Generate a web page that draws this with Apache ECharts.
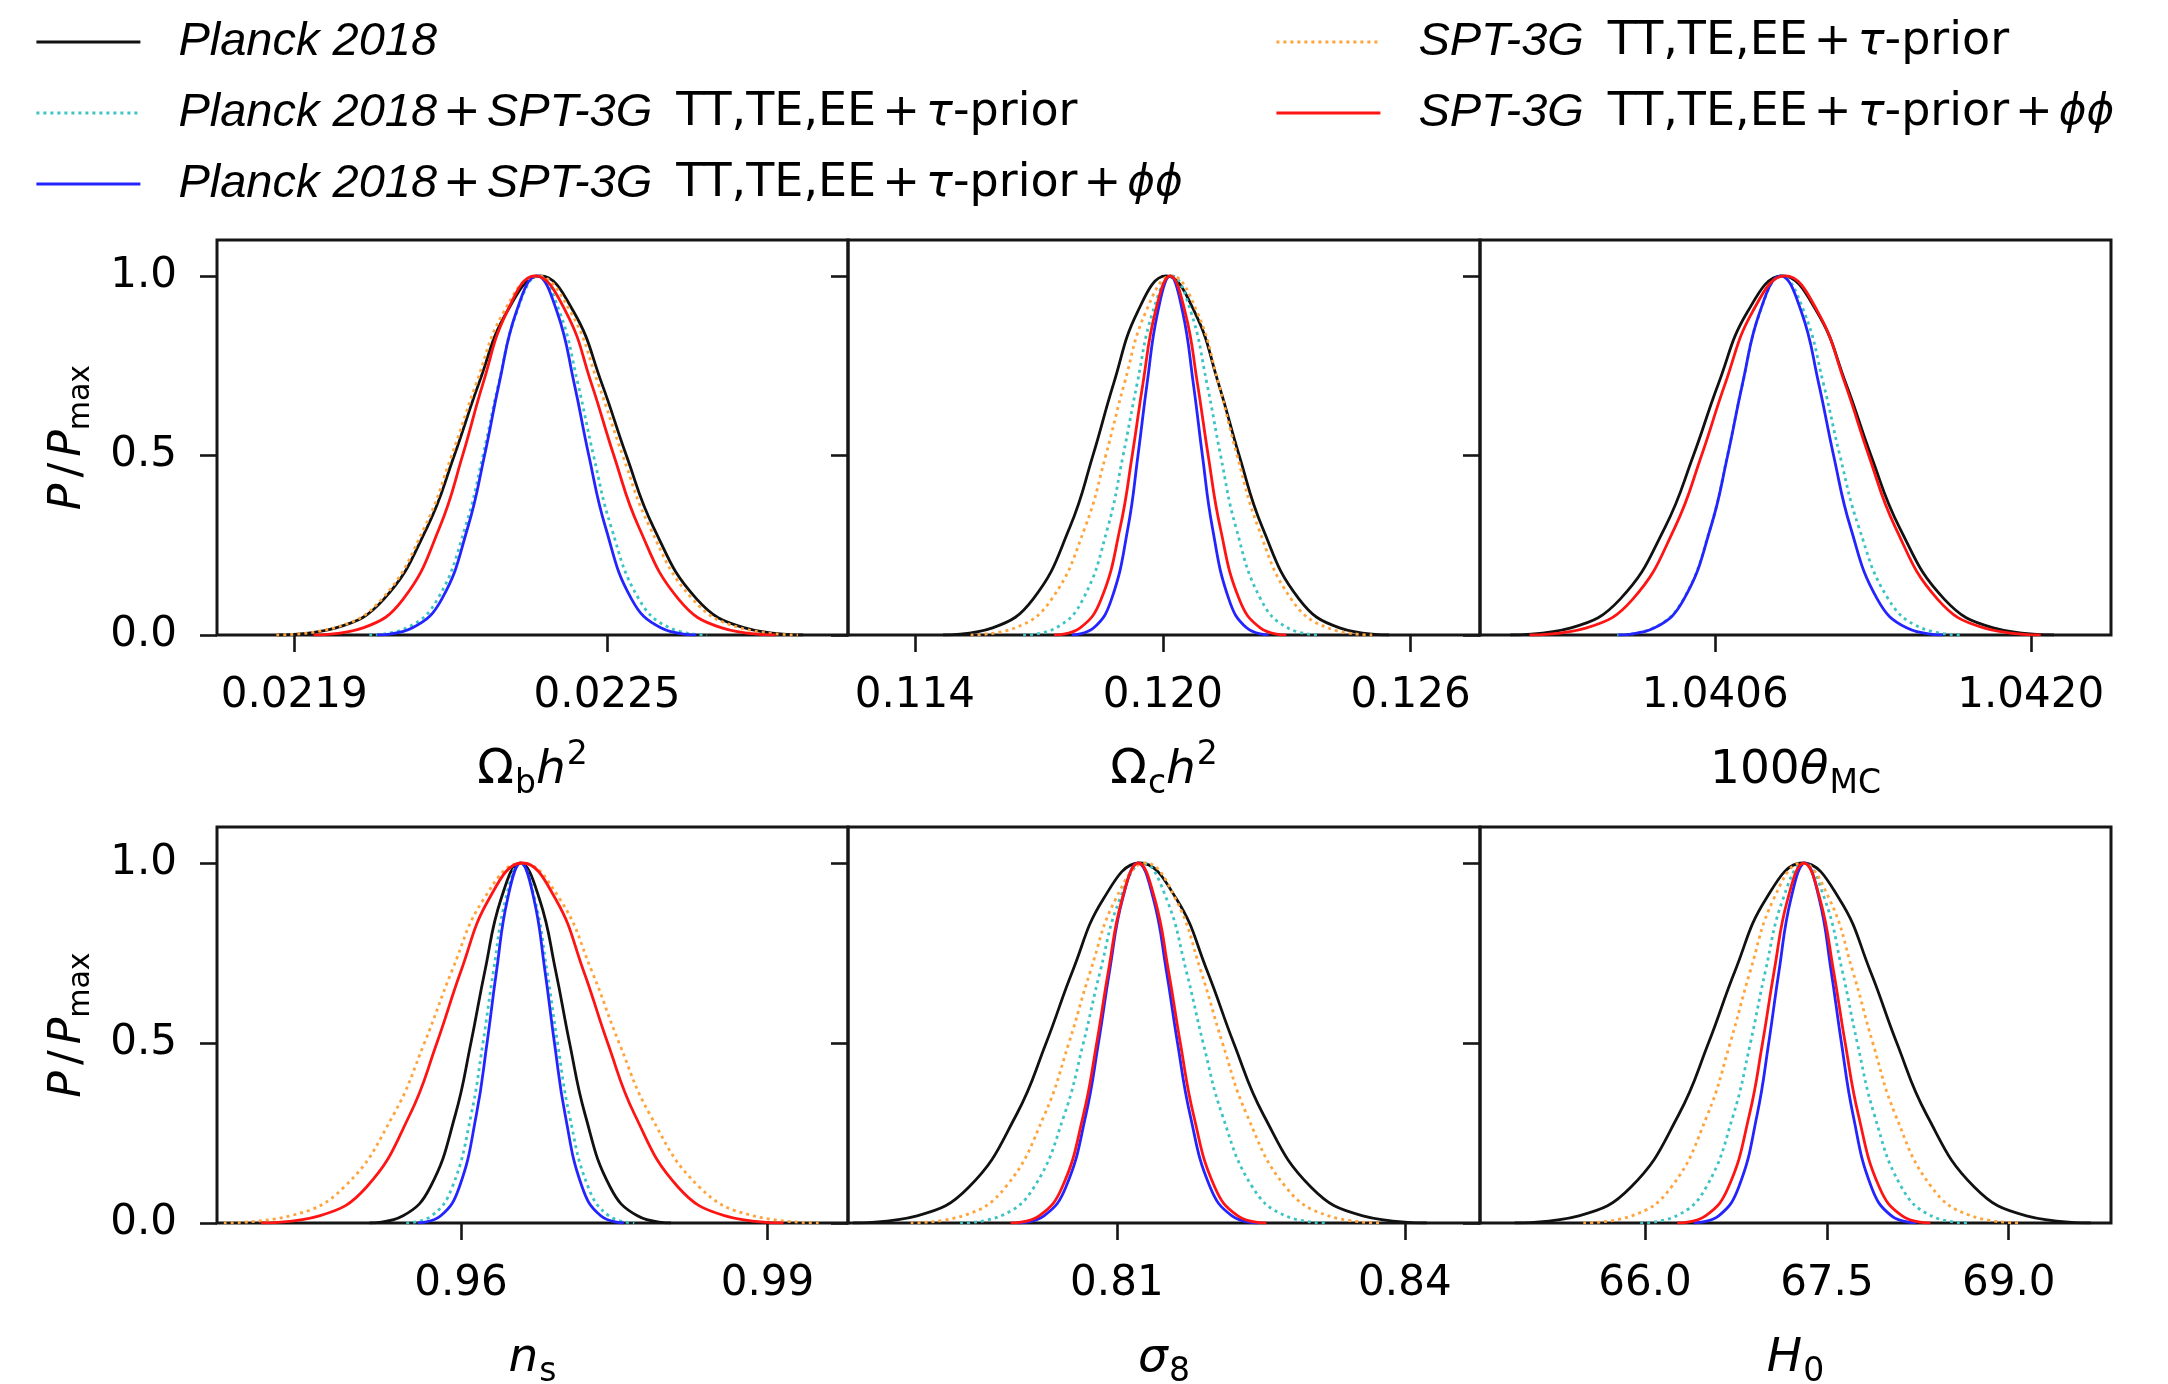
<!DOCTYPE html>
<html>
<head>
<meta charset="utf-8">
<script src="https://cdn.jsdelivr.net/npm/echarts@6/dist/echarts.min.js"></script>
<style>
html,body{margin:0;padding:0;background:#fff;}
#c{width:2168px;height:1384px;}
</style>
</head>
<body>
<div id="c"></div>
<script>
// ---------- DATA ----------
// shared heights (P/Pmax) at which the x-positions of each curve were read
const levels = [0, 0.02, 0.1, 0.3, 0.5, 0.7, 0.9, 1, 0.9, 0.7, 0.5, 0.3, 0.1, 0.02, 0];

const seriesNames = [
  'Planck 2018',
  'Planck 2018+SPT-3G TT,TE,EE+τ-prior',
  'Planck 2018+SPT-3G TT,TE,EE+τ-prior+ϕϕ',
  'SPT-3G TT,TE,EE+τ-prior',
  'SPT-3G TT,TE,EE+τ-prior+ϕϕ'
];

// Omega_b h^2
const omb_planck       = [0.021868,0.021980,0.022072,0.022155,0.022207,0.022254,0.022308,0.022372,0.022436,0.022490,0.022537,0.022589,0.022672,0.022764,0.022876];
const omb_planckSpt    = [0.022044,0.022116,0.022175,0.022228,0.022262,0.022292,0.022327,0.022368,0.022409,0.022444,0.022474,0.022508,0.022561,0.022620,0.022692];
const omb_planckSptPhi = [0.022059,0.022127,0.022183,0.022233,0.022265,0.022293,0.022326,0.022365,0.022404,0.022437,0.022465,0.022497,0.022547,0.022603,0.022671];
const omb_spt          = [0.021866,0.021977,0.022068,0.022150,0.022202,0.022249,0.022302,0.022366,0.022430,0.022483,0.022530,0.022582,0.022664,0.022755,0.022866];
const omb_sptPhi       = [0.021937,0.022032,0.022109,0.022179,0.022223,0.022262,0.022308,0.022362,0.022421,0.022470,0.022513,0.022561,0.022637,0.022720,0.022823];

// Omega_c h^2
const omc_planck       = [0.11468,0.11588,0.11686,0.11775,0.11831,0.11881,0.11939,0.12008,0.12077,0.12135,0.12185,0.12241,0.12330,0.12428,0.12548];
const omc_planckSpt    = [0.11662,0.11742,0.11807,0.11867,0.11904,0.11938,0.11976,0.12022,0.12068,0.12107,0.12140,0.12177,0.12237,0.12302,0.12382];
const omc_planckSptPhi = [0.11780,0.11833,0.11876,0.11916,0.11940,0.11962,0.11988,0.12018,0.12048,0.12074,0.12096,0.12120,0.12160,0.12203,0.12256];
const omc_spt          = [0.11535,0.11643,0.11731,0.11812,0.11862,0.11907,0.11959,0.12021,0.12083,0.12135,0.12180,0.12231,0.12311,0.12399,0.12507];
const omc_sptPhi       = [0.11737,0.11800,0.11851,0.11897,0.11926,0.11952,0.11982,0.12018,0.12054,0.12084,0.12110,0.12139,0.12185,0.12236,0.12299];

// 100 theta_MC
const theta_planck       = [1.039691,1.039960,1.040178,1.040377,1.040503,1.040614,1.040743,1.040897,1.041051,1.041180,1.041291,1.041417,1.041616,1.041834,1.042103];
const theta_planckSpt    = [1.040165,1.040327,1.040459,1.040579,1.040654,1.040721,1.040799,1.040892,1.040994,1.041080,1.041153,1.041237,1.041368,1.041513,1.041691];
const theta_planckSptPhi = [1.040170,1.040331,1.040461,1.040580,1.040655,1.040721,1.040798,1.040890,1.040982,1.041059,1.041125,1.041200,1.041319,1.041449,1.041610];
const theta_spt          = [];
const theta_sptPhi       = [1.039776,1.040029,1.040234,1.040421,1.040539,1.040644,1.040765,1.040910,1.041055,1.041176,1.041281,1.041399,1.041586,1.041791,1.042044];

// n_s
const ns_planck       = [0.95104,0.95433,0.95700,0.95944,0.96097,0.96234,0.96392,0.96580,0.96768,0.96927,0.97063,0.97216,0.97460,0.97727,0.98056];
const ns_planckSpt    = [0.95464,0.95713,0.95915,0.96099,0.96215,0.96318,0.96438,0.96580,0.96722,0.96842,0.96945,0.97061,0.97245,0.97447,0.97696];
const ns_planckSptPhi = [0.95577,0.95802,0.95984,0.96150,0.96255,0.96348,0.96456,0.96585,0.96714,0.96822,0.96915,0.97020,0.97186,0.97368,0.97593];
const ns_spt          = [0.93679,0.94329,0.94857,0.95338,0.95642,0.95911,0.96223,0.96595,0.96967,0.97280,0.97548,0.97852,0.98333,0.98861,0.99511];
const ns_sptPhi       = [0.94044,0.94614,0.95076,0.95498,0.95764,0.96000,0.96274,0.96600,0.96926,0.97200,0.97436,0.97702,0.98124,0.98586,0.99156];

// sigma_8
const s8_planck       = [0.78252,0.78919,0.79459,0.79952,0.80263,0.80539,0.80859,0.81240,0.81621,0.81941,0.82217,0.82528,0.83021,0.83562,0.84228];
const s8_planckSpt    = [0.79367,0.79793,0.80138,0.80452,0.80651,0.80827,0.81032,0.81275,0.81518,0.81723,0.81899,0.82098,0.82412,0.82757,0.83183];
const s8_planckSptPhi = [0.79960,0.80241,0.80469,0.80677,0.80808,0.80924,0.81059,0.81220,0.81381,0.81516,0.81632,0.81763,0.81971,0.82199,0.82480];
const s8_spt          = [0.78852,0.79398,0.79841,0.80245,0.80500,0.80725,0.80988,0.81300,0.81612,0.81875,0.82100,0.82355,0.82759,0.83202,0.83748];
const s8_sptPhi       = [0.79893,0.80190,0.80431,0.80651,0.80790,0.80912,0.81055,0.81225,0.81395,0.81538,0.81661,0.81799,0.82019,0.82260,0.82557];

// H_0
const h0_planck       = [64.924,65.454,65.884,66.276,66.523,66.742,66.997,67.300,67.603,67.858,68.077,68.324,68.716,69.146,69.676];
const h0_planckSpt    = [65.960,66.261,66.505,66.728,66.869,66.993,67.138,67.310,67.482,67.627,67.751,67.892,68.115,68.359,68.660];
const h0_planckSptPhi = [66.402,66.607,66.773,66.924,67.020,67.105,67.203,67.320,67.437,67.535,67.620,67.716,67.867,68.033,68.238];
const h0_spt          = [65.490,65.892,66.217,66.514,66.702,66.868,67.061,67.290,67.520,67.713,67.879,68.066,68.363,68.689,69.090];
const h0_sptPhi       = [66.266,66.499,66.688,66.860,66.969,67.065,67.177,67.310,67.443,67.555,67.651,67.760,67.932,68.121,68.354];

// axis ranges and ticks
const xMins = [0.021752, 0.11238, 1.039556, 0.93612, 0.78199, 64.638];
const xMaxs = [0.022962, 0.12768, 1.042356, 0.99788, 0.84783, 69.844];
const xTickValues = [[0.0219, 0.0225], [0.114, 0.120, 0.126], [1.0406, 1.0420], [0.96, 0.99], [0.81, 0.84], [66.0, 67.5, 69.0]];
const xTickLabels = [['0.0219', '0.0225'], ['0.114', '0.120', '0.126'], ['1.0406', '1.0420'], ['0.96', '0.99'], ['0.81', '0.84'], ['66.0', '67.5', '69.0']];
const yTickValues = [0, 0.5, 1.0];
const yTickLabels = ['0.0', '0.5', '1.0'];
const xAxisNames = [
  '{om|Ω}{sub|b}{it|h}{sup|2}',
  '{om|Ω}{sub|c}{it|h}{sup|2}',
  '{rm|100}{it|θ}{sub|MC}',
  '{it|n}{sub|s}',
  '{it|σ}{sub|8}',
  '{it|H}{sub|0}'
];
const yAxisName = '{it|P}{sl|/}{it|P}{sub|max}';

// ---------- BUILD ----------
const panelCurves = [
  [omb_planck, omb_planckSpt, omb_planckSptPhi, omb_spt, omb_sptPhi],
  [omc_planck, omc_planckSpt, omc_planckSptPhi, omc_spt, omc_sptPhi],
  [theta_planck, theta_planckSpt, theta_planckSptPhi, theta_spt, theta_sptPhi],
  [ns_planck, ns_planckSpt, ns_planckSptPhi, ns_spt, ns_sptPhi],
  [s8_planck, s8_planckSpt, s8_planckSptPhi, s8_spt, s8_sptPhi],
  [h0_planck, h0_planckSpt, h0_planckSptPhi, h0_spt, h0_sptPhi]
];

const styles = [
  {color: '#111111', type: 'solid'},
  {color: '#3cc3c3', type: [3, 4]},
  {color: '#2424ff', type: 'solid'},
  {color: '#ffa43c', type: [3, 4]},
  {color: '#ff1414', type: 'solid'}
];
const drawOrder = [0, 1, 2, 3, 4];

const gridLefts = [217, 848, 1480];
const gridWidths = [631, 632, 631];
const gridTops = [240, 827];
const gridHeights = [395, 396];

const FONT = 'DejaVu Sans';
const nameRich = {
  rm: {fontFamily: FONT, fontSize: 47, color: '#000', lineHeight: 60},
  om: {fontFamily: FONT, fontSize: 48, color: '#000', lineHeight: 60},
  it: {fontFamily: FONT, fontSize: 47, fontStyle: 'italic', color: '#000', lineHeight: 60},
  sl: {fontFamily: FONT, fontSize: 44, color: '#000', lineHeight: 60, padding: [0, 5]},
  sub: {fontFamily: FONT, fontSize: 33, color: '#000', lineHeight: 60, padding: [26, 0, 0, 1]},
  sup: {fontFamily: FONT, fontSize: 33, color: '#000', lineHeight: 60, padding: [0, 0, 32, 1]}
};
const ynameRich = {
  it: {fontFamily: FONT, fontSize: 44, fontStyle: 'italic', color: '#000', lineHeight: 60},
  sl: {fontFamily: FONT, fontSize: 44, color: '#000', lineHeight: 60, padding: [0, 6]},
  sub: {fontFamily: FONT, fontSize: 30, color: '#000', lineHeight: 60, padding: [24, 0, 0, 0]}
};

const grids = [], xAxes = [], yAxes = [], series = [];
for (let i = 0; i < 6; i++) {
  const row = Math.floor(i / 3), col = i % 3;
  grids.push({
    left: gridLefts[col], top: gridTops[row], width: gridWidths[col], height: gridHeights[row],
    show: true, borderColor: '#161616', borderWidth: 3, backgroundColor: 'transparent',
    containLabel: false, outerBoundsMode: 'none'
  });
  const tv = xTickValues[i], tl = xTickLabels[i];
  xAxes.push({
    type: 'value', gridIndex: i, min: xMins[i], max: xMaxs[i],
    axisLine: {show: false}, splitLine: {show: false},
    axisTick: {show: true, length: 17, customValues: tv, lineStyle: {color: '#161616', width: 2.6}},
    axisLabel: {
      show: true, customValues: tv, margin: 40,
      fontFamily: FONT, fontSize: 42, color: '#000',
      formatter: function (v) {
        let best = 0;
        for (let k = 1; k < tv.length; k++) if (Math.abs(tv[k] - v) < Math.abs(tv[best] - v)) best = k;
        return tl[best];
      }
    },
    name: xAxisNames[i], nameLocation: 'middle', nameGap: 106, nameMoveOverlap: false,
    nameTextStyle: {rich: nameRich, fontFamily: FONT, fontSize: 47, color: '#000', lineHeight: 60}
  });
  yAxes.push({
    type: 'value', gridIndex: i, min: 0, max: 1.1,
    axisLine: {show: false}, splitLine: {show: false},
    axisTick: {show: true, length: 17, customValues: yTickValues, lineStyle: {color: '#161616', width: 2.6}},
    axisLabel: {
      show: col === 0, customValues: yTickValues, margin: 40,
      fontFamily: FONT, fontSize: 42, color: '#000',
      formatter: function (v) {
        let best = 0;
        for (let k = 1; k < yTickValues.length; k++) if (Math.abs(yTickValues[k] - v) < Math.abs(yTickValues[best] - v)) best = k;
        return yTickLabels[best];
      }
    },
    name: col === 0 ? yAxisName : '', nameLocation: 'middle', nameRotate: 90, nameGap: 118, nameMoveOverlap: false,
    nameTextStyle: {rich: ynameRich, fontFamily: FONT, fontSize: 44, color: '#000', lineHeight: 60}
  });
  drawOrder.forEach(function (s, zi) {
    const xs = panelCurves[i][s];
    series.push({
      type: 'line', name: seriesNames[s], xAxisIndex: i, yAxisIndex: i,
      data: xs.map(function (x, j) { return [x, levels[j]]; }),
      smooth: 0.45, symbol: 'none', showSymbol: false, silent: true, clip: true,
      z: 2 + zi,
      lineStyle: {color: styles[s].color, width: 2.8, type: styles[s].type},
      itemStyle: {color: styles[s].color}
    });
  });
}

const LF = 'Liberation Sans';
const legendRich = {
  g: {width: 33},
  it: {fontFamily: LF, fontSize: 47, fontStyle: 'italic', color: '#000', lineHeight: 50},
  rm: {fontFamily: FONT, fontSize: 46, color: '#000', lineHeight: 50},
  sp: {fontFamily: FONT, fontSize: 46, color: '#000', lineHeight: 50, width: 24},
  op: {fontFamily: FONT, fontSize: 45, color: '#000', lineHeight: 50, padding: [0, 6]},
  gr: {fontFamily: FONT, fontSize: 45, fontStyle: 'italic', color: '#000', lineHeight: 50},
  ph: {fontFamily: FONT, fontSize: 42, fontStyle: 'italic', color: '#000', lineHeight: 50}
};
const legendText = {};
legendText[seriesNames[0]] = '{g| }{it|Planck 2018}';
legendText[seriesNames[1]] = '{g| }{it|Planck 2018}{op|+}{it|SPT-3G}{sp| }{rm|TT,TE,EE}{op|+}{gr|τ}{rm|-prior}';
legendText[seriesNames[2]] = '{g| }{it|Planck 2018}{op|+}{it|SPT-3G}{sp| }{rm|TT,TE,EE}{op|+}{gr|τ}{rm|-prior}{op|+}{ph|ϕϕ}';
legendText[seriesNames[3]] = '{g| }{it|SPT-3G}{sp| }{rm|TT,TE,EE}{op|+}{gr|τ}{rm|-prior}';
legendText[seriesNames[4]] = '{g| }{it|SPT-3G}{sp| }{rm|TT,TE,EE}{op|+}{gr|τ}{rm|-prior}{op|+}{ph|ϕϕ}';

function makeLegend(names, left) {
  return {
    data: names, orient: 'vertical', left: left, top: 12,
    itemWidth: 104, itemHeight: 14, itemGap: 21, selectedMode: false,
    itemStyle: {opacity: 0},
    lineStyle: {width: 2.8},
    formatter: function (n) { return legendText[n]; },
    textStyle: {rich: legendRich, lineHeight: 50, fontSize: 46}
  };
}

const chart = echarts.init(document.getElementById('c'), null, {renderer: 'canvas', width: 2168, height: 1384});
chart.setOption({
  animation: false,
  backgroundColor: '#ffffff',
  legend: [
    makeLegend([seriesNames[0], seriesNames[1], seriesNames[2]], 30),
    makeLegend([seriesNames[3], seriesNames[4]], 1270)
  ],
  grid: grids,
  xAxis: xAxes,
  yAxis: yAxes,
  series: series
});
</script>
</body>
</html>
